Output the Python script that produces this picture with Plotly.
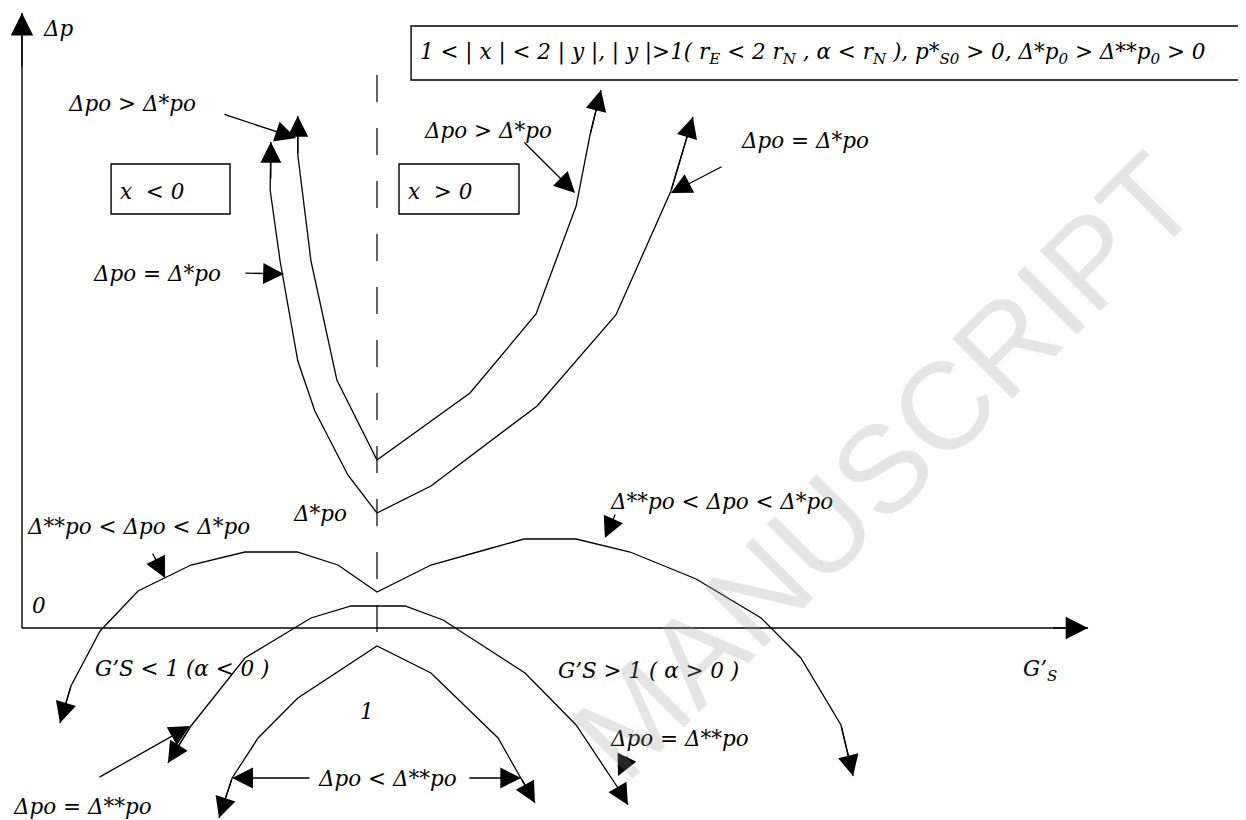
import plotly.graph_objects as go

# schematic coordinates: x in units of G'_S (1 at the dashed line), y in units of delta p
# curve with delta po > delta* po (upper V)
v_upper_x = [0.777, 0.777, 0.814, 0.887, 1.000, 1.262, 1.448, 1.561, 1.600, 1.631]
v_upper_y = [5.12, 4.73, 3.67, 2.48, 1.68, 2.35, 3.14, 4.22, 4.93, 5.38]

# curve with delta po = delta* po (outer V)
v_outer_x = [0.701, 0.701, 0.699, 0.727, 0.777, 0.825, 0.918, 1.000, 1.152, 1.451, 1.673, 1.828, 1.890]
v_outer_y = [4.86, 4.48, 4.38, 3.67, 2.67, 2.17, 1.53, 1.15, 1.42, 2.22, 3.13, 4.37, 5.11]

# delta** po < delta po < delta* po (double hump)
hump_x = [0.107, 0.138, 0.220, 0.327, 0.476, 0.628, 0.775, 0.890, 1.000, 1.152,
          1.313, 1.414, 1.561, 1.713, 1.899, 2.082, 2.194, 2.307, 2.341]
hump_y = [-0.95, -0.58, -0.03, 0.37, 0.63, 0.76, 0.76, 0.63, 0.36, 0.63,
          0.79, 0.89, 0.89, 0.76, 0.49, 0.10, -0.30, -0.97, -1.48]

# delta po = delta** po (flat-top dome)
dome_x = [0.411, 0.476, 0.628, 0.814, 0.927, 1.079, 1.186, 1.417, 1.561, 1.679, 1.707]
dome_y = [-1.35, -0.98, -0.30, 0.10, 0.22, 0.22, 0.08, -0.45, -0.97, -1.60, -1.77]

# delta po < delta** po (peaked dome)
low_x = [0.555, 0.592, 0.665, 0.777, 1.000, 1.152, 1.341, 1.406, 1.445]
low_y = [-1.90, -1.50, -1.10, -0.70, -0.18, -0.45, -1.10, -1.50, -1.75]

curves = [
    (v_upper_x, v_upper_y),
    (v_outer_x, v_outer_y),
    (hump_x, hump_y),
    (dome_x, dome_y),
    (low_x, low_y),
]

dash_x = [1.0, 1.0]
dash_y = [5.53, -0.18]

axis_x_line = [0.0, 3.003]
axis_y_line = [0.0, 6.15]

FONT = "DejaVu Serif, serif"
BLACK = "#000000"
LW = 1.3
X_SHIFT = -0.028  # annotation text sits a bit right of its anchor

fig = go.Figure()

for cx, cy in curves:
    fig.add_trace(go.Scatter(x=cx, y=cy, mode="lines",
                             line=dict(color=BLACK, width=LW), hoverinfo="skip"))

fig.add_trace(go.Scatter(x=dash_x, y=dash_y, mode="lines",
                         line=dict(color=BLACK, width=1.2, dash="27px,26px"), hoverinfo="skip"))

# axes
fig.add_trace(go.Scatter(x=axis_x_line, y=[0, 0], mode="lines",
                         line=dict(color=BLACK, width=1.4), hoverinfo="skip"))
fig.add_trace(go.Scatter(x=[0, 0], y=axis_y_line, mode="lines",
                         line=dict(color=BLACK, width=1.4), hoverinfo="skip"))


def arrow(x0, y0, x1, y1, width=LW):
    fig.add_annotation(x=x1, y=y1, ax=x0, ay=y0, xref="x", yref="y", axref="x", ayref="y",
                       text="", showarrow=True, arrowhead=2, arrowsize=3.2,
                       arrowwidth=width, arrowcolor=BLACK, standoff=0)


# arrow heads at both ends of every curve
for cx, cy in curves:
    arrow(cx[1], cy[1], cx[0], cy[0])
    arrow(cx[-2], cy[-2], cx[-1], cy[-1])

# axis arrow heads
arrow(0, 5.6, 0, axis_y_line[1], 1.4)
arrow(2.9, 0, axis_x_line[1], 0, 1.4)

# pointer arrows from labels
pointers = [
    (0.566, 5.14, 0.772, 4.90),
    (0.625, 3.55, 0.738, 3.54),
    (1.411, 4.87, 1.558, 4.35),
    (1.975, 4.62, 1.828, 4.35),
    (0.366, 0.76, 0.403, 0.50),
    (1.673, 1.15, 1.642, 0.90),
    (1.707, -1.27, 1.679, -1.48),
    (0.214, -1.50, 0.473, -0.98),
    (0.814, -1.50, 0.592, -1.50),
    (1.256, -1.50, 1.406, -1.50),
]
for p in pointers:
    arrow(*p)


def label(x, y, txt, size=21.5):
    fig.add_annotation(x=x + X_SHIFT, y=y, xref="x", yref="y", text="<i>" + txt + "</i>",
                       showarrow=False, xanchor="left", yanchor="middle",
                       font=dict(family=FONT, size=size, color=BLACK))


label(0.082, 6.00, "Δp")
label(0.152, 5.25, "Δpo &gt; Δ*po")
label(0.299, 4.37, "x &nbsp;&lt; 0")
label(0.223, 3.55, "Δpo = Δ*po")
label(1.110, 4.37, "x &nbsp;&gt; 0")
label(1.155, 4.98, "Δpo &gt; Δ*po")
label(2.048, 4.88, "Δpo = Δ*po")
label(1.144, 5.75,
      "1 &lt; | x | &lt; 2 | y |, | y |&gt;1( r<sub>E</sub> &lt; 2 r<sub>N</sub> , α &lt; r<sub>N</sub> ), "
      "p*<sub>S0</sub> &gt; 0, Δ*p<sub>0</sub> &gt; Δ**p<sub>0</sub> &gt; 0")
label(0.786, 1.15, "Δ*po")
label(0.037, 1.02, "Δ**po &lt; Δpo &lt; Δ*po")
label(1.679, 1.27, "Δ**po &lt; Δpo &lt; Δ*po")
label(0.051, 0.23, "0")
label(0.228, -0.40, "G’S &lt; 1 (α &lt; 0 )")
label(1.532, -0.42, "G’S &gt; 1 ( α &gt; 0 )")
label(2.842, -0.42, "G’<sub>S</sub>")
label(0.975, -0.83, "1")
label(1.679, -1.10, "Δpo = Δ**po")
label(-0.003, -1.78, "Δpo = Δ**po")
label(0.856, -1.50, "Δpo &lt; Δ**po")

# boxes
box_style = dict(type="rect", xref="x", yref="y", line=dict(color=BLACK, width=1.4))
fig.add_shape(x0=0.251, x1=0.586, y0=4.14, y1=4.64, **box_style)
fig.add_shape(x0=1.062, x1=1.400, y0=4.14, y1=4.64, **box_style)
fig.add_shape(x0=1.096, x1=3.454, y0=5.48, y1=6.02, **box_style)

# faint watermark
fig.add_annotation(x=2.43, y=1.62, xref="x", yref="y", text="MANUSCRIPT", showarrow=False,
                   textangle=-45, font=dict(family="Liberation Sans", size=124,
                                            color="rgba(150,150,150,0.25)"))

fig.update_xaxes(range=[-0.0394, 3.4704], visible=False)
fig.update_yaxes(range=[-2.0, 6.2], visible=False)
fig.update_layout(width=1246, height=820, margin=dict(l=0, r=0, t=0, b=0),
                  plot_bgcolor="white", paper_bgcolor="white", showlegend=False)

fig.write_html("out.html")
